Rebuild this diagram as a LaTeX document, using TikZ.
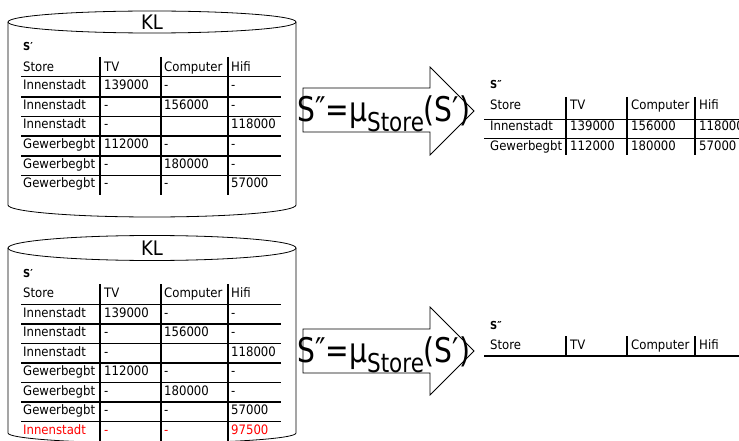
\documentclass[tikz,border=0pt]{standalone}
\usepackage{fontspec}
\setmainfont{DejaVu Sans}[FakeStretch=0.9]
\begin{document}
\begin{tikzpicture}[x=1pt,y=-1pt,
  cell/.style={anchor=mid west, inner sep=0pt, font=\fontsize{13}{15}\selectfont},
  tlabel/.style={anchor=mid west, inner sep=0pt, font=\fontsize{11}{13}\selectfont\bfseries},
  rulestyle/.style={line width=1.8pt},
  cylstyle/.style={line width=0.8pt},
  arrowshape/.style={draw, line width=0.8pt},
  formula/.style={anchor=base west, inner sep=0pt, font=\fontsize{34}{40}\selectfont},
  dblabel/.style={inner sep=0pt, font=\fontsize{20}{24}\selectfont},
  newrow/.style={text=red}
]
\useasboundingbox (0,0) rectangle (739,441);
\clip (0,0) rectangle (739,441);

% ---------- top cylinder ----------
\draw[cylstyle] (152,22) ellipse [x radius=144, y radius=11];
\draw[cylstyle] (8,22) -- (8,205) arc[start angle=180, end angle=0, x radius=144, y radius=12] -- (296,22);
\node[dblabel] (kl1) at (152,22) {KL};

\node[tlabel] (s1) at (23,48) {S′};
\foreach \x/\t/\n in {23/Store/a,104/TV/b,164/Computer/c,231/Hifi/d}
  \node[cell] (A-h-\n) at (\x,68.5) {\t};
\foreach \a/\b/\cc/\d [count=\i] in {Innenstadt/139000/-/-, Innenstadt/-/156000/-, Innenstadt/-//118000, Gewerbegbt/112000/-/-, Gewerbegbt/-/180000/-, Gewerbegbt/-/-/57000}{
  \pgfmathsetmacro\yy{87+19.6*(\i-1)}
  \node[cell] (A-\i-a) at (23,\yy) {\a};
  \node[cell] (A-\i-b) at (104,\yy) {\b};
  \node[cell] (A-\i-c) at (164,\yy) {\cc};
  \node[cell] (A-\i-d) at (231,\yy) {\d};
}
\foreach \y in {76.5,97,116.6,136.2,155.8,175.4}
  \draw[rulestyle] (21,\y) -- (281,\y);
\foreach \x in {100,161,228}
  \draw[rulestyle] (\x,57) -- (\x,195);

% ---------- top arrow ----------
\draw[arrowshape] (303,88) -- (430,88) -- (430,67) -- (474,111) -- (430,155) -- (430,132) -- (303,132) -- cycle;
\node[formula] (f1) at (297,122) {\scalebox{0.92}[1]{S″=μ\raisebox{-10pt}{\fontsize{26}{30}\selectfont Store}(S′)}};

% ---------- top right table ----------
\node[tlabel] (s2) at (490,86) {S″};
\foreach \x/\t/\n in {490/Store/a,570/TV/b,631/Computer/c,699/Hifi/d}
  \node[cell] (B-h-\n) at (\x,106.5) {\t};
\foreach \a/\b/\cc/\d [count=\i] in {Innenstadt/139000/156000/118000, Gewerbegbt/112000/180000/57000}{
  \pgfmathsetmacro\yy{127.5+20*(\i-1)}
  \node[cell] (B-\i-a) at (490,\yy) {\a};
  \node[cell] (B-\i-b) at (570,\yy) {\b};
  \node[cell] (B-\i-c) at (631,\yy) {\cc};
  \node[cell] (B-\i-d) at (699,\yy) {\d};
}
\foreach \y in {119.5,138.5}
  \draw[rulestyle] (484,\y) -- (745,\y);
\foreach \x in {566,627,695}
  \draw[rulestyle] (\x,97) -- (\x,155);

% ---------- bottom cylinder ----------
\draw[cylstyle] (152,248) ellipse [x radius=144, y radius=12.5];
\draw[cylstyle] (8,248) -- (8,433) arc[start angle=180, end angle=0, x radius=144, y radius=10] -- (296,248);
\node[dblabel] (kl2) at (152,248) {KL};

\node[tlabel] (s3) at (23,275) {S′};
\foreach \x/\t/\n in {23/Store/a,104/TV/b,164/Computer/c,231/Hifi/d}
  \node[cell] (C-h-\n) at (\x,294.5) {\t};
\foreach \a/\b/\cc/\d [count=\i] in {Innenstadt/139000/-/-, Innenstadt/-/156000/-, Innenstadt/-//118000, Gewerbegbt/112000/-/-, Gewerbegbt/-/180000/-, Gewerbegbt/-/-/57000}{
  \pgfmathsetmacro\yy{314.5+19.5*(\i-1)}
  \node[cell] (C-\i-a) at (23,\yy) {\a};
  \node[cell] (C-\i-b) at (104,\yy) {\b};
  \node[cell] (C-\i-c) at (164,\yy) {\cc};
  \node[cell] (C-\i-d) at (231,\yy) {\d};
}
\node[cell,newrow] (C-7-a) at (23,431.5) {Innenstadt};
\node[cell,newrow] (C-7-b) at (104,431.5) {-};
\node[cell,newrow] (C-7-c) at (164,431.5) {-};
\node[cell,newrow] (C-7-d) at (231,431.5) {97500};
\foreach \y in {304.5,324,343.5,363,382.5,402,421.5}
  \draw[rulestyle] (21,\y) -- (281,\y);
\foreach \x in {100,161,228}
  \draw[rulestyle] (\x,284) -- (\x,445);

% ---------- bottom arrow ----------
\draw[arrowshape] (303,329) -- (430,329) -- (430,307) -- (474,351) -- (430,395) -- (430,373) -- (303,373) -- cycle;
\node[formula] (f2) at (297,362) {\scalebox{0.92}[1]{S″=μ\raisebox{-10pt}{\fontsize{26}{30}\selectfont Store}(S′)}};

% ---------- bottom right table ----------
\node[tlabel] (s4) at (490,327) {S″};
\foreach \x/\t/\n in {490/Store/a,570/TV/b,631/Computer/c,699/Hifi/d}
  \node[cell] (D-h-\n) at (\x,346.5) {\t};
\draw[rulestyle] (484,356) -- (745,356);
\foreach \x in {566,627,695}
  \draw[rulestyle] (\x,336) -- (\x,356);
\end{tikzpicture}
\end{document}
